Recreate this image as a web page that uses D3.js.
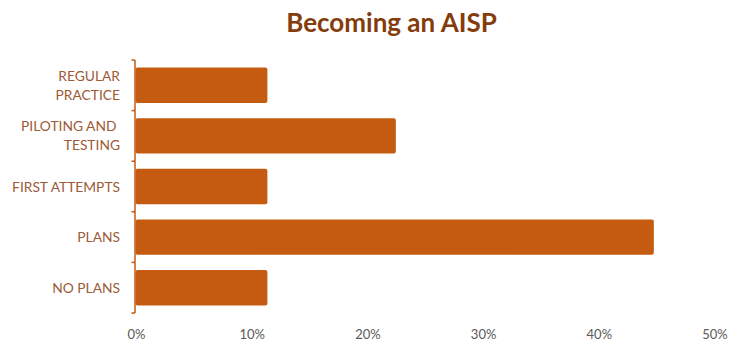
<!DOCTYPE html>
<html><head><meta charset="utf-8">
<script src="https://cdn.jsdelivr.net/npm/d3@7"></script>
<style>body{margin:0;background:#fff}</style>
</head><body><div id="chart"></div>
<script>
const categories = ["REGULAR PRACTICE", "PILOTING AND TESTING", "FIRST ATTEMPTS", "PLANS", "NO PLANS"];
const labelLines = [["REGULAR","PRACTICE"],["PILOTING AND ","TESTING"],["FIRST ATTEMPTS"],["PLANS"],["NO PLANS"]];
const values = [11.4, 22.5, 11.4, 44.8, 11.4];
const xTicks = [0, 10, 20, 30, 40, 50];
const title = "Becoming an AISP";

const W = 731, H = 341;
const svg = d3.select("#chart").append("svg").attr("width", W).attr("height", H);
const x = d3.scaleLinear().domain([0, 50]).range([135.5, 714]);
const y = d3.scaleBand().domain(categories).range([60, 313]).paddingInner(0.3).paddingOuter(0.15);

svg.append("text").attr("x", 391.5).attr("y", 32).attr("text-anchor", "middle")
  .attr("font-family", "Lato, sans-serif").attr("font-weight", "bold").attr("font-size", 26)
  .attr("fill", "#843C0C").text(title);

svg.selectAll("rect.bar").data(categories).join("rect").attr("class","bar")
  .attr("x", x(0)).attr("y", d => y(d))
  .attr("width", (d,i) => x(values[i]) - x(0)).attr("height", y.bandwidth())
  .attr("rx", 2).attr("fill", "#C55A11");

// y axis line and ticks at category boundaries
const boundaries = d3.range(categories.length + 1).map(i => 60 + i * (253 / categories.length));
svg.append("line").attr("x1", 135).attr("x2", 135).attr("y1", 60).attr("y2", 313)
  .attr("stroke", "#C55A11").attr("stroke-width", 1.5);
svg.selectAll("line.tk").data(boundaries).join("line").attr("class","tk")
  .attr("x1", 131.5).attr("x2", 135).attr("y1", d => d).attr("y2", d => d)
  .attr("stroke", "#C55A11").attr("stroke-width", 1.5);

// category labels
const lab = svg.selectAll("text.cat").data(categories).join("text").attr("class","cat")
  .attr("text-anchor", "end").attr("font-family", "Lato, sans-serif").attr("font-size", 13.8)
  .attr("fill", "#9C5A36").style("white-space", "pre");
lab.each(function(d, i) {
  const lines = labelLines[i];
  const cy = y(d) + y.bandwidth() / 2;
  const t = d3.select(this);
  lines.forEach((ln, j) => {
    t.append("tspan").attr("x", 120).attr("y", cy + (j - (lines.length - 1) / 2) * 19 + 5).text(ln);
  });
});

// x tick labels
svg.selectAll("text.xt").data(xTicks).join("text").attr("class","xt")
  .attr("x", d => x(d) + 1).attr("y", 339).attr("text-anchor", "middle")
  .attr("font-family", "Lato, sans-serif").attr("font-size", 13).attr("fill", "#595959")
  .text(d => d + "%");
</script></body></html>
